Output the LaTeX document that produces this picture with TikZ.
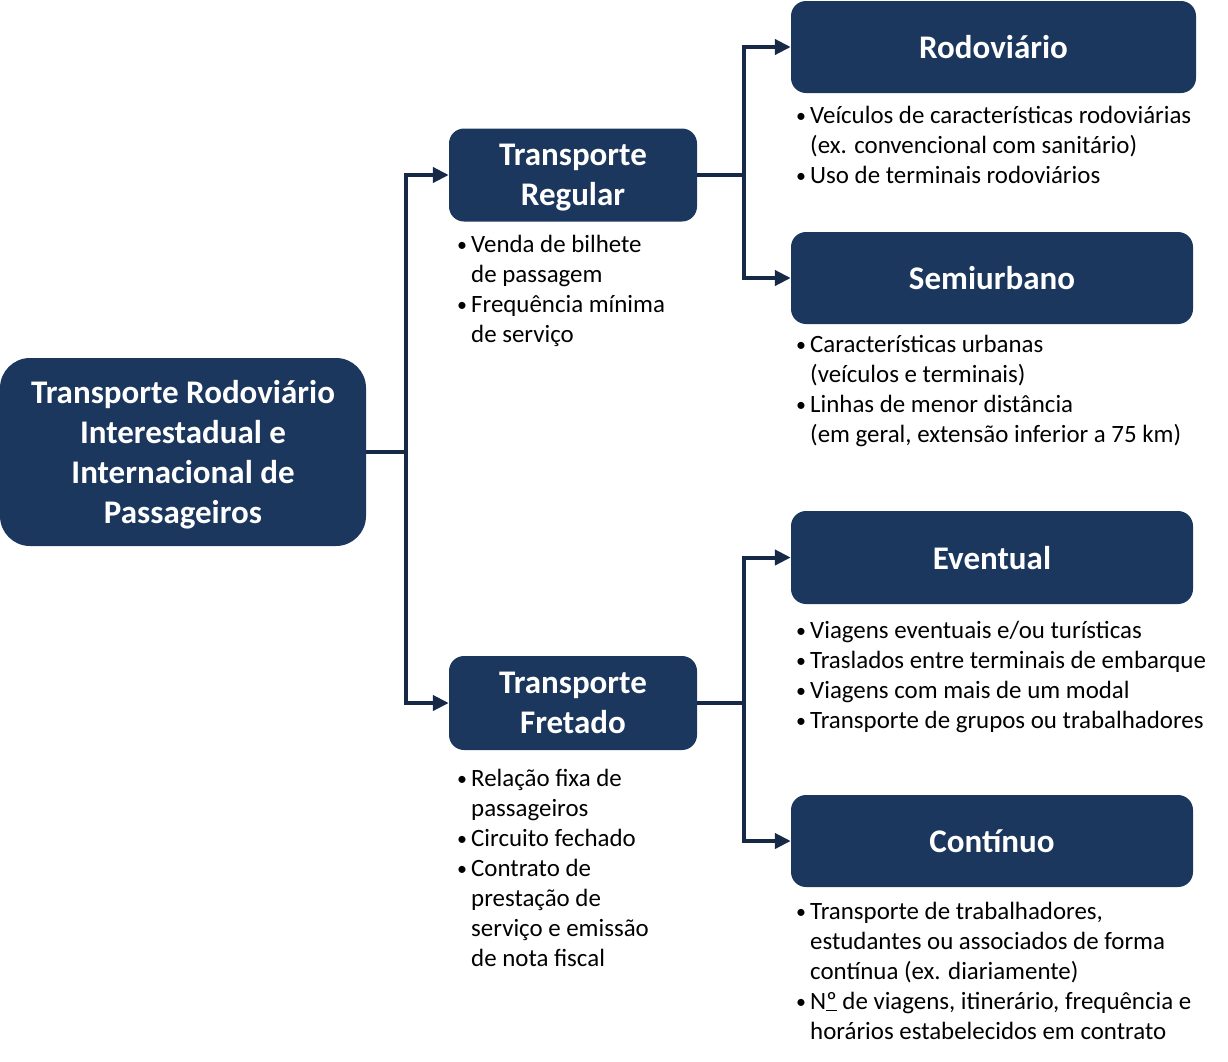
\documentclass[tikz,border=0pt]{standalone}
\usepackage{fontspec}
\setmainfont{Carlito}
\usepackage{tikz}
\usetikzlibrary{arrows.meta,positioning}
\definecolor{navy}{RGB}{28,55,94}
\definecolor{linknavy}{RGB}{22,42,72}
\tikzset{caixa/.style={fill=navy, text=white, align=center, inner sep=0pt, text depth=0pt,
    rounded corners=15pt, font=\bfseries\fontsize{33}{40}\selectfont}}
\tikzset{lista/.style={anchor=north west, inner sep=0pt,
    font=\fontsize{24.9}{30}\selectfont}}
\tikzset{liga/.style={draw=linknavy, line width=4pt}}
\tikzset{seta/.style={liga, -{Triangle[length=16pt,width=15pt]}}}
\newcommand{\marca}{\makebox[14pt][l]{\raisebox{1pt}{\scalebox{0.8}{\textbullet}}}}

\begin{document}
\begin{tikzpicture}[x=1pt,y=-1pt]
  \useasboundingbox (0,0) rectangle (1228,1061);
  % main box on the left
  \node[caixa, rounded corners=30pt, minimum width=366pt, minimum height=188pt] (raiz) at (183,452)
    {Transporte Rodoviário\\Interestadual e\\Internacional de\\Passageiros};

  % second level
  \node[caixa, minimum width=248pt, minimum height=93pt] (reg) at (573,175) {Transporte\\Regular};
  \node[caixa, minimum width=248pt, minimum height=94pt] (fret) at (573,703) {Transporte\\Fretado};

  % third level
  \node[caixa, minimum width=405pt, minimum height=92pt] (rod) at (993.5,47) {Rodoviário};
  \node[caixa, minimum width=402pt, minimum height=92pt] (semi) at (992,278) {Semiurbano};
  \node[caixa, minimum width=402pt, minimum height=93pt] (even) at (992,557.5) {Eventual};
  \node[caixa, minimum width=402pt, minimum height=92pt] (cont) at (992,841) {Contínuo};

  % bullet lists under the boxes
  \node[lista] (lreg) at (457,231) {\begin{tabular}{@{}l@{}l@{}}
    \marca & Venda de bilhete\\ & de passagem\\
    \marca & Frequência mínima\\ & de serviço\end{tabular}};
  \node[lista] (lfret) at (457,765) {\begin{tabular}{@{}l@{}l@{}}
    \marca & Relação fixa de\\ & passageiros\\
    \marca & Circuito fechado\\
    \marca & Contrato de\\ & prestação de\\ & serviço e emissão\\ & de nota fiscal\end{tabular}};
  \node[lista] (lrod) at (796,102) {\begin{tabular}{@{}l@{}l@{}}
    \marca & Veículos de características rodoviárias\\ & (ex. convencional com sanitário)\\
    \marca & Uso de terminais rodoviários\end{tabular}};
  \node[lista] (lsemi) at (796,331) {\begin{tabular}{@{}l@{}l@{}}
    \marca & Características urbanas\\ & (veículos e terminais)\\
    \marca & Linhas de menor distância\\ & (em geral, extensão inferior a 75 km)\end{tabular}};
  \node[lista] (leven) at (796,617) {\begin{tabular}{@{}l@{}l@{}}
    \marca & Viagens eventuais e/ou turísticas\\
    \marca & Traslados entre terminais de embarque\\
    \marca & Viagens com mais de um modal\\
    \marca & Transporte de grupos ou trabalhadores\end{tabular}};
  \node[lista] (lcont) at (796,898) {\begin{tabular}{@{}l@{}l@{}}
    \marca & Transporte de trabalhadores,\\ & estudantes ou associados de forma\\ & contínua (ex. diariamente)\\
    \marca & N\underline{º} de viagens, itinerário, frequência e\\ & horários estabelecidos em contrato\end{tabular}};

  % connectors
  \draw[liga] (raiz.east) -- ++(40,0) coordinate (j1);
  \draw[seta] (j1) |- (reg.west);
  \draw[seta] (j1) |- (fret.west);
  \draw[liga] (reg.east) -- ++(47,0) coordinate (j2);
  \draw[seta] (j2) |- (rod.west);
  \draw[seta] (j2) |- (semi.west);
  \draw[liga] (fret.east) -- ++(47,0) coordinate (j3);
  \draw[seta] (j3) |- (even.west);
  \draw[seta] (j3) |- (cont.west);
\end{tikzpicture}
\end{document}
